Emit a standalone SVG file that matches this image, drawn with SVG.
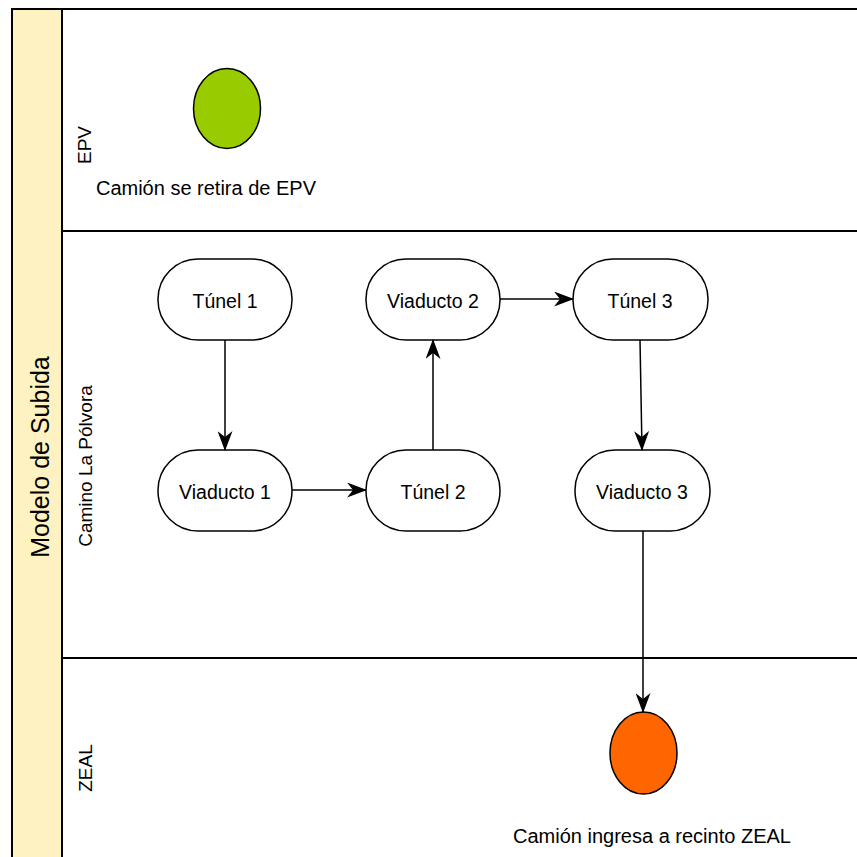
<svg xmlns="http://www.w3.org/2000/svg" width="857" height="857" viewBox="0 0 857 857">
<style>
.lane{fill:none;stroke:#000;stroke-width:2}
.node rect{fill:#fff;stroke:#000;stroke-width:1.5}
.t{font-family:"Liberation Sans",Arial,sans-serif;font-size:19.5px;fill:#000;text-anchor:middle}
.lbl{font-size:19px}
.edge{fill:none;stroke:#000;stroke-width:1.5}
</style>
<defs>
<marker id="arr" viewBox="0 0 20 15" refX="19" refY="7.5" markerWidth="20" markerHeight="15" markerUnits="userSpaceOnUse" orient="auto">
<path d="M0,0 L20,7.5 L0,15 L6,7.5 Z" fill="#000"/>
</marker>
</defs>
<rect width="857" height="857" fill="#fff"/>
<g id="pool">
<rect x="12" y="9" width="50" height="860" fill="#fff2c2" stroke="#000" stroke-width="2"/>
<line class="lane" x1="12" y1="9" x2="857" y2="9"/>
<line class="lane" x1="62" y1="231" x2="857" y2="231"/>
<line class="lane" x1="62" y1="658" x2="857" y2="658"/>
<text class="t" style="font-size:25px" transform="translate(49,457) rotate(-90)">Modelo de Subida</text>
<text class="t lbl" transform="translate(91,145) rotate(-90)">EPV</text>
<text class="t lbl" transform="translate(92,466) rotate(-90)">Camino La Pólvora</text>
<text class="t lbl" transform="translate(92,768) rotate(-90)">ZEAL</text>
</g>
<g id="start">
<ellipse cx="227" cy="108.5" rx="33.5" ry="40" fill="#99cc00" stroke="#000" stroke-width="1.5"/>
<text class="t" style="font-size:20px" x="206" y="195">Camión se retira de EPV</text>
</g>
<g id="tunel1" class="node"><rect x="158" y="259" width="134" height="81" rx="40" ry="40"/><text class="t" x="225" y="308">Túnel 1</text></g>
<g id="viaducto2" class="node"><rect x="366" y="259" width="134" height="81" rx="40" ry="40"/><text class="t" x="433" y="308">Viaducto 2</text></g>
<g id="tunel3" class="node"><rect x="573" y="259" width="135" height="81" rx="40" ry="40"/><text class="t" x="640" y="308">Túnel 3</text></g>
<g id="viaducto1" class="node"><rect x="158" y="450" width="134" height="81" rx="40" ry="40"/><text class="t" x="225" y="499">Viaducto 1</text></g>
<g id="tunel2" class="node"><rect x="366" y="450" width="134" height="81" rx="40" ry="40"/><text class="t" x="433" y="499">Túnel 2</text></g>
<g id="viaducto3" class="node"><rect x="575" y="450" width="135" height="81" rx="40" ry="40"/><text class="t" x="642" y="499">Viaducto 3</text></g>
<g id="end">
<ellipse cx="643.5" cy="753" rx="33.5" ry="41" fill="#ff6600" stroke="#000" stroke-width="1.5"/>
<text class="t" style="font-size:20px" x="652" y="843">Camión ingresa a recinto ZEAL</text>
</g>
<g id="connectors">
<path class="edge" d="M225,340 L225,450" marker-end="url(#arr)"/>
<path class="edge" d="M292,490 L366,490" marker-end="url(#arr)"/>
<path class="edge" d="M433,450 L433,340" marker-end="url(#arr)"/>
<path class="edge" d="M500,299 L573,299" marker-end="url(#arr)"/>
<path class="edge" d="M640,340 L642,450" marker-end="url(#arr)"/>
<path class="edge" d="M643,531 L643,712" marker-end="url(#arr)"/>
</g>
</svg>
